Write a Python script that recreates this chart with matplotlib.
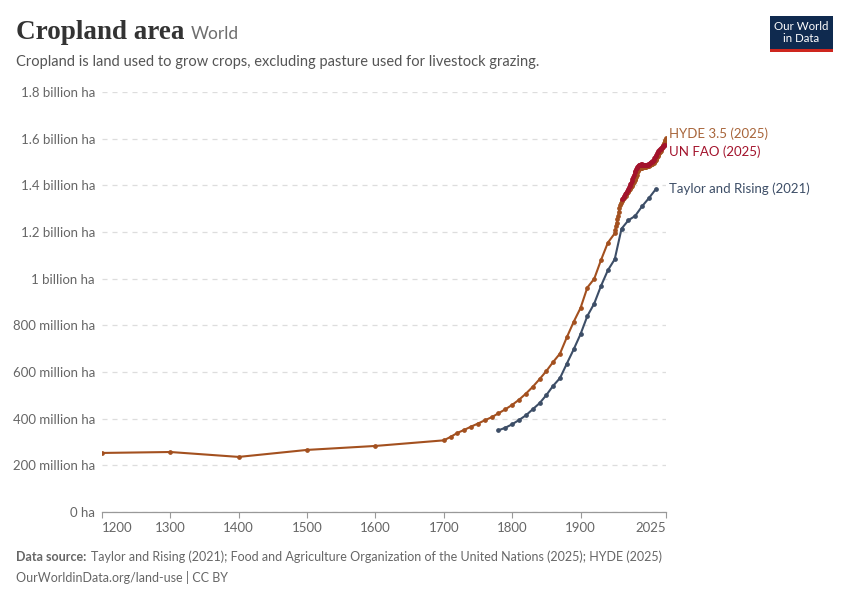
import numpy as np
import matplotlib.pyplot as plt
from matplotlib.patches import Rectangle
from matplotlib.ticker import FuncFormatter

# ==== Data (million hectares) ====
hyde_years = [1200, 1300, 1400, 1500, 1600, 1700, 1710, 1720, 1730, 1740, 1750, 1760,
              1770, 1780, 1790, 1800, 1810, 1820, 1830, 1840, 1850, 1860, 1870, 1880,
              1890, 1900, 1910, 1920, 1930, 1940] + list(range(1950, 2026))
hyde_values = [253, 257, 236, 266, 283, 307, 322, 339, 352, 366, 379, 393,
               406, 423, 440, 459, 481, 507, 536, 569, 604, 643, 679, 749,
               815, 874, 962, 999, 1080, 1154,
               # 1950-1959
               1194, 1210, 1226, 1240, 1255, 1269, 1287, 1304, 1315, 1325,
               # 1960-1969
               1333, 1338, 1342, 1347, 1350, 1353, 1356, 1362, 1367, 1372,
               # 1970-1979
               1376, 1380, 1385, 1390, 1394, 1397, 1403, 1409, 1415, 1421,
               # 1980-1989
               1428, 1436, 1445, 1455, 1463, 1468, 1471, 1473, 1474, 1475,
               # 1990-1999
               1476, 1477, 1478, 1478, 1479, 1479, 1480, 1481, 1482, 1483,
               # 2000-2009
               1484, 1486, 1488, 1490, 1491, 1493, 1495, 1497, 1500, 1504,
               # 2010-2019
               1508, 1514, 1520, 1526, 1531, 1537, 1543, 1549, 1554, 1560,
               # 2020-2025
               1567, 1574, 1581, 1588, 1595, 1601]

fao_years = list(range(1961, 2024))
fao_values = [1340, 1345, 1350, 1356, 1361, 1365, 1369, 1374, 1380,
              1386, 1391, 1397, 1404, 1411, 1419, 1427, 1436, 1446, 1455,
              1463, 1470, 1476, 1480, 1483, 1485, 1487, 1488, 1489, 1490,
              1490, 1489, 1488, 1487, 1486, 1486, 1487, 1488, 1489, 1490,
              1492, 1494, 1496, 1498, 1500, 1503, 1506, 1510, 1515, 1520,
              1526, 1532, 1537, 1542, 1546, 1550, 1554, 1557, 1560, 1563,
              1566, 1569, 1571, 1573]

tr_years = list(range(1780, 2020, 10))
tr_values = [350, 361, 376, 394, 414, 440, 466, 501, 541, 574, 636, 697,
             762, 840, 893, 969, 1036, 1083, 1214, 1250, 1269, 1310, 1345, 1383]

series = [
    ("HYDE 3.5 (2025)", hyde_years, hyde_values, "#a3501f", "#a8653a", 22),
    ("UN FAO (2025)", fao_years, fao_values, "#a3132c", "#a3132c", -28),
    ("Taylor and Rising (2021)", tr_years, tr_values, "#3d4e67", "#3d4e67", 3),
]

# ==== Figure ====
fig = plt.figure(figsize=(8.5, 6), dpi=100)
ax = fig.add_axes([0.12, 0.1467, 0.6635, 0.7])

for name, yrs, vals, col, tcol, nudge in series:
    ax.plot(yrs, np.array(vals) * 1e6, color=col, lw=1.5, marker='o',
            markersize=2.4, zorder=3)
    ax.text(1.006, (vals[-1] + nudge) * 1e6, name, color=tcol, fontsize=9.5,
            family='Lato', va='center', ha='left',
            transform=ax.get_yaxis_transform(), clip_on=False)

ax.set_xlim(1200, 2025)
ax.set_ylim(0, 1.8e9)
ax.set_yticks(np.arange(0, 1.81e9, 2e8))


def fmt_y(v, pos):
    if v == 0:
        return "0 ha"
    if v >= 1e9:
        return f"{v / 1e9:g} billion ha"
    return f"{v / 1e6:g} million ha"


ax.yaxis.set_major_formatter(FuncFormatter(fmt_y))
ax.grid(axis='y', color='#dddddd', linestyle=(0, (4, 4)), lw=0.9)
ax.set_axisbelow(True)
for s in ['top', 'right', 'left']:
    ax.spines[s].set_visible(False)
ax.spines['bottom'].set_color('#999999')
ax.spines['bottom'].set_linewidth(0.9)
ax.tick_params(axis='y', length=0, labelsize=9.5, labelcolor='#666666', pad=5)
ax.tick_params(axis='x', length=4, color='#999999', labelsize=9.5,
               labelcolor='#666666', pad=3)
for lbl in ax.get_yticklabels():
    lbl.set_family('Lato')

xticks = [1200, 1300, 1400, 1500, 1600, 1700, 1800, 1900, 2025]
ax.set_xticks(xticks)
ax.set_xticklabels([str(t) for t in xticks], family='Lato')
xl = ax.get_xticklabels()
xl[0].set_ha('left')
xl[-1].set_ha('right')

# ==== Titles ====
title = fig.text(0.019, 0.935, "Cropland area", fontsize=19.5, family='Liberation Serif',
                 fontweight='bold', color='#333333', va='baseline')
fig.canvas.draw()
bb = title.get_window_extent().transformed(fig.transFigure.inverted())
fig.text(bb.x1 + 0.007, 0.935, "World", fontsize=12.5, family='Lato', color='#6e6e6e',
         va='baseline')
fig.text(0.019, 0.89, "Cropland is land used to grow crops, excluding pasture used for livestock grazing.",
         fontsize=10.5, family='Lato', color='#555555', va='baseline')

# logo
fig.patches.append(Rectangle((0.906, 0.913), 0.074, 0.06, transform=fig.transFigure,
                             facecolor='#0f2a4f', edgecolor='none'))
fig.patches.append(Rectangle((0.906, 0.913), 0.074, 0.006, transform=fig.transFigure,
                             facecolor='#ce261e', edgecolor='none'))
fig.text(0.943, 0.946, "Our World\nin Data", fontsize=8.3, family='Lato',
         color='white', ha='center', va='center', linespacing=1.05)

# footer
fig.text(0.019, 0.0645, "Data source:", fontsize=9, family='Lato',
         color='#666666', fontweight='bold', va='baseline')
fig.text(0.107, 0.0645, "Taylor and Rising (2021); Food and Agriculture Organization of the United Nations (2025); HYDE (2025)",
         fontsize=9, family='Lato', color='#666666', va='baseline')
fig.text(0.019, 0.0295, "OurWorldinData.org/land-use | CC BY", fontsize=9,
         family='Lato', color='#666666', va='baseline')

fig.savefig("out.png", dpi=100)
